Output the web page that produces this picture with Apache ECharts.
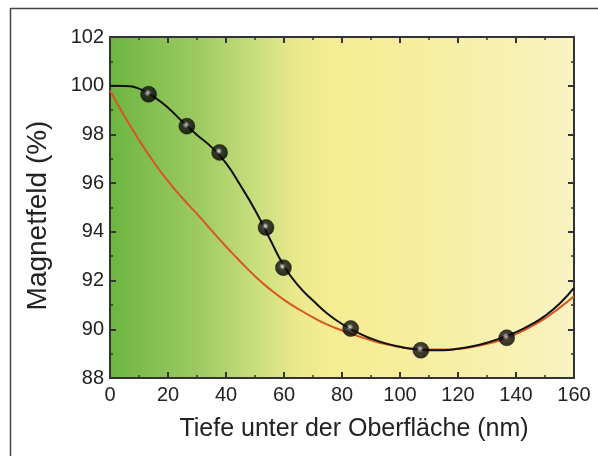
<!DOCTYPE html>
<html>
<head>
<meta charset="utf-8">
<script src="https://cdn.jsdelivr.net/npm/echarts@6/dist/echarts.min.js"></script>
<style>
html,body{margin:0;padding:0;background:#fff;}
#chart{width:598px;height:456px;}
</style>
</head>
<body>
<div id="chart"></div>
<script>
// Depth positions (nm) at which the curves were read
var curveDepths = [0,5,10,15,20,25,30,35,40,45,50,55,60,65,70,75,80,85,90,95,100,105,110,115,120,125,130,135,140,145,150,155,160];
// Black fit curve (%)
var blackCurve = [100.00,99.99,99.88,99.55,99.10,98.52,97.98,97.48,96.82,95.90,94.90,93.74,92.60,91.78,91.18,90.64,90.22,89.88,89.62,89.42,89.28,89.18,89.14,89.14,89.20,89.30,89.45,89.65,89.88,90.18,90.55,91.05,91.70];
// Red model curve (%)
var redCurve = [99.80,98.75,97.77,96.88,96.08,95.38,94.74,94.06,93.40,92.77,92.18,91.66,91.21,90.83,90.49,90.19,89.95,89.74,89.55,89.39,89.27,89.20,89.17,89.17,89.20,89.28,89.40,89.57,89.80,90.10,90.45,90.88,91.36];
// Measured points
var pointDepth = [13.3,26.5,37.8,53.8,59.8,83.0,107.2,136.8];
var pointField = [99.65,98.34,97.26,94.18,92.53,90.03,89.14,89.65];
// Axis ticks
var xTicks = [0,20,40,60,80,100,120,140,160];
var yTicks = [88,90,92,94,96,98,100,102];

function pairs(xs, ys){ return xs.map(function(x,i){ return [x, ys[i]]; }); }

var chart = echarts.init(document.getElementById('chart'), null, {renderer:'canvas'});
var font = 'Liberation Sans, Arial, Helvetica, sans-serif';
var axisColor = '#333';

function baseAxis(pos, isX, showLabel){
  var ticks = isX ? xTicks : yTicks;
  return {
    type:'value',
    position: pos,
    min: ticks[0],
    max: ticks[ticks.length-1],
    interval: ticks[1]-ticks[0],
    axisLine:{show:true, onZero:false, lineStyle:{color:axisColor, width:2}},
    axisTick:{show:true, inside:true, length:6, lineStyle:{color:axisColor, width:2}},
    minorTick:{show:true, splitNumber:2, length:3, lineStyle:{color:axisColor, width:1.5}},
    splitLine:{show:false},
    axisLabel:{show:showLabel, color:'#222', fontSize:20, fontFamily:font, margin: isX ? 7 : 6}
  };
}

var xBottom = baseAxis('bottom', true, true);
xBottom.name = 'Tiefe unter der Oberfläche (nm)';
xBottom.nameLocation = 'middle';
xBottom.nameGap = 39;
xBottom.nameTextStyle = {fontSize:25, color:'#222', fontFamily:font, padding:[0,0,0,24]};
var xTop = baseAxis('top', true, false);

var yLeft = baseAxis('left', false, true);
yLeft.name = 'Magnetfeld (%)';
yLeft.nameLocation = 'middle';
yLeft.nameGap = 58;
yLeft.nameRotate = 90;
yLeft.nameTextStyle = {fontSize:28, color:'#222', fontFamily:font, padding:[0,16,0,0]};
var yRight = baseAxis('right', false, false);

var bg = new echarts.graphic.LinearGradient(0,0,1,0,[
  {offset:0, color:'#6cb541'},
  {offset:0.19, color:'#9dca62'},
  {offset:0.32, color:'#cbdf7e'},
  {offset:0.41, color:'#ece98d'},
  {offset:0.47, color:'#f6ec91'},
  {offset:0.73, color:'#f7efa4'},
  {offset:1, color:'#f8f3c2'}
]);

var ball = {
  type:'radial', x:0.45, y:0.42, r:0.55,
  colorStops:[
    {offset:0, color:'#ffffff'},
    {offset:0.14, color:'#9a9aa4'},
    {offset:0.38, color:'#151515'},
    {offset:1, color:'#000'}
  ]
};

chart.setOption({
  animation:false,
  backgroundColor:'#fff',
  grid:{left:110, right:24, top:37, bottom:78, show:true, borderWidth:0, backgroundColor:bg},
  xAxis:[xBottom, xTop],
  yAxis:[yLeft, yRight],
  graphic:[
    {type:'line', shape:{x1:10.5,y1:8,x2:10.5,y2:456}, style:{stroke:'#444', lineWidth:1.5}, z:100},
    {type:'line', shape:{x1:10,y1:8.5,x2:598,y2:8.5}, style:{stroke:'#444', lineWidth:1.5}, z:100}
  ],
  series:[
    {type:'line', xAxisIndex:0, yAxisIndex:0, data:pairs(curveDepths, redCurve), smooth:true, showSymbol:false, lineStyle:{color:'#d8561f', width:2}, z:2},
    {type:'line', xAxisIndex:0, yAxisIndex:0, data:pairs(curveDepths, blackCurve), smooth:true, showSymbol:false, lineStyle:{color:'#111', width:2}, z:3},
    {type:'scatter', xAxisIndex:0, yAxisIndex:0, data:pairs(pointDepth, pointField), symbol:'circle', symbolSize:16, itemStyle:{color:ball, borderColor:'#000', borderWidth:0.5}, z:4}
  ]
});
</script>
</body>
</html>
